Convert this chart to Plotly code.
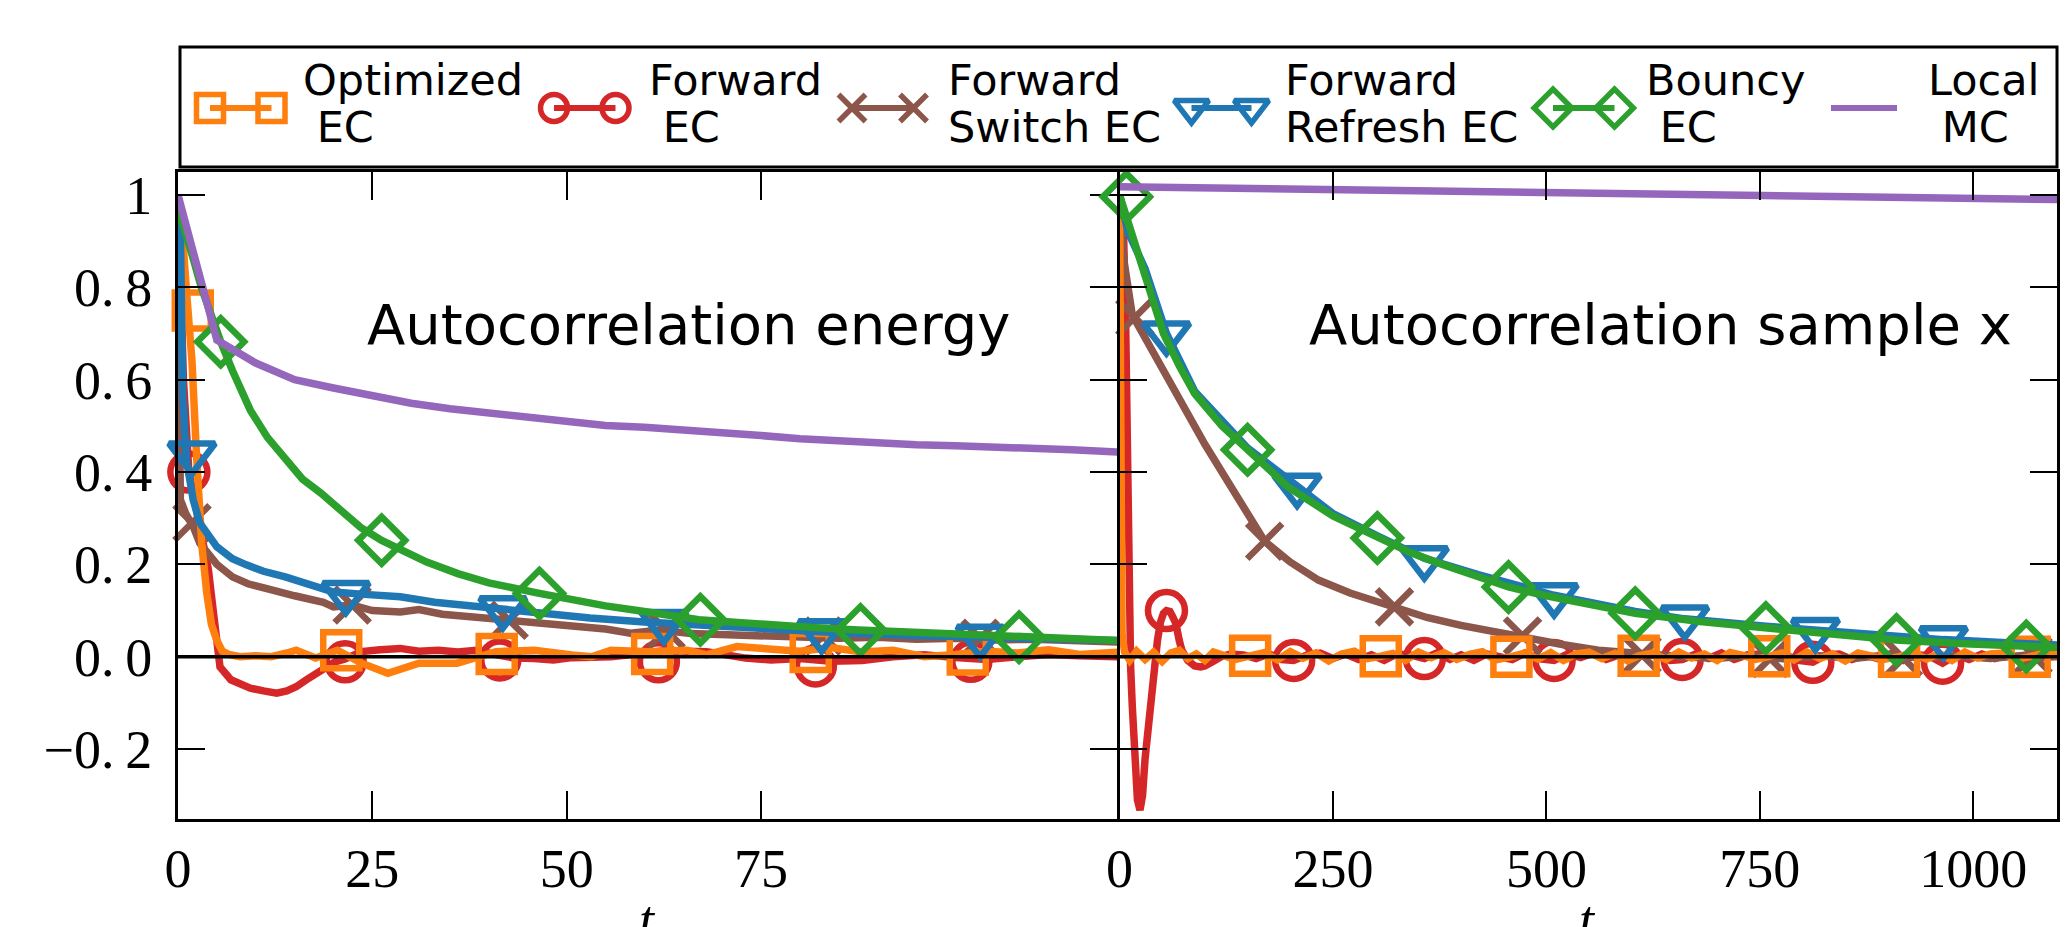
import plotly.graph_objects as go

W, H = 2066, 927

# ---------------- DATA: energy autocorrelation (left panel) ----------------
t_e_opt = [0, 0.5, 1.1, 1.8, 2.4, 3.05, 3.7, 4.3, 5, 5.7, 6.5, 8, 10, 12, 14, 15.2, 17.7, 20.5,
           23.6, 27, 31, 35.9, 40.9, 45.8, 50.7, 53.2, 55.7, 60.6, 65.5, 68, 71.9, 76.3, 80, 84,
           88, 92, 96, 100, 104, 108, 112, 116, 121]
ac_e_opt = [1.0, 0.93, 0.79, 0.64, 0.43, 0.245, 0.138, 0.07, 0.035, 0.012, 0.005, 0.0, 0.002, 0.0,
            0.008, 0.014, -0.003, 0.014, -0.014, -0.036, -0.014, -0.014, 0.011, 0.014, 0.004, 0.0,
            0.014, 0.011, 0.014, 0.004, 0.022, 0.018, 0.012, 0.02, 0.01, 0.014, 0.0, 0.005, 0.012,
            0.008, 0.015, 0.005, 0.01]
mk_e_opt_t = [1.9, 21, 41, 61, 81.4, 101.6, 121]
mk_e_opt_y = [0.75, 0.014, 0.006, 0.006, 0.01, 0.005, 0.01]

t_e_fwd = [0, 0.7, 1.4, 2.2, 3.0, 3.9, 4.6, 5.4, 6.8, 8, 9.3, 11, 12.7, 14, 15.2, 16.5, 17.7, 19,
           20.2, 21.5, 23.6, 26, 28.6, 31, 33.5, 36, 38.4, 41, 43.3, 45.8, 48.3, 50.7, 53.2, 55.7,
           58.1, 60.5, 63, 65.5, 68, 70.5, 73, 76.3, 80, 84, 88, 92, 96, 100, 104, 108, 112, 116, 121]
ac_e_fwd = [1.0, 0.6, 0.40, 0.33, 0.26, 0.19, 0.09, -0.022, -0.05, -0.06, -0.068, -0.074, -0.079,
            -0.074, -0.065, -0.05, -0.036, -0.022, -0.011, -0.005, 0.011, 0.015, 0.018, 0.012,
            0.014, 0.01, 0.014, 0.004, -0.003, -0.004, -0.007, -0.002, -0.003, 0.0, 0.004, 0.01,
            0.014, 0.012, 0.011, 0.004, -0.003, -0.007, -0.004, -0.01, -0.008, 0.0, 0.004, -0.002,
            -0.006, 0.0, 0.005, 0.002, 0.0]
mk_e_fwd_t = [1.4, 21.5, 41.4, 61.8, 82, 102]
mk_e_fwd_y = [0.40, -0.011, -0.007, -0.011, -0.02, -0.01]

t_e_sw = [0, 0.3, 1, 2, 2.8, 3.9, 5, 7, 9, 11.3, 13, 15, 18.7, 20, 22.4, 25, 28.6, 31, 34, 38.4,
          42.6, 45, 48.3, 52, 55, 58.2, 62, 66, 70, 76.3, 80, 85, 90, 95, 100, 105, 110, 115, 121]
ac_e_sw = [1.0, 0.34, 0.31, 0.28, 0.246, 0.224, 0.2, 0.173, 0.158, 0.148, 0.14, 0.132, 0.118, 0.108,
           0.112, 0.1, 0.097, 0.102, 0.092, 0.086, 0.079, 0.077, 0.073, 0.068, 0.06, 0.051, 0.058,
           0.05, 0.048, 0.043, 0.045, 0.04, 0.042, 0.038, 0.04, 0.036, 0.038, 0.035, 0.032]
mk_e_sw_t = [1.8, 22.4, 42.6, 62.8, 83, 103.2]
mk_e_sw_y = [0.29, 0.112, 0.079, 0.058, 0.045, 0.04]

t_e_ref = [0, 0.3, 0.6, 1.1, 1.95, 2.8, 5, 7, 8.8, 11, 13.8, 17, 20, 24, 28.6, 33, 38.4, 45, 53,
           60, 67, 76.3, 85, 95, 105, 113, 121]
ac_e_ref = [1.0, 0.93, 0.57, 0.426, 0.34, 0.29, 0.238, 0.212, 0.199, 0.185, 0.173, 0.155, 0.14,
            0.135, 0.13, 0.118, 0.108, 0.095, 0.084, 0.075, 0.068, 0.058, 0.052, 0.046, 0.041,
            0.038, 0.035]
mk_e_ref_t = [1.8, 21.6, 41.8, 62.5, 82.8, 103.2]
mk_e_ref_y = [0.44, 0.138, 0.105, 0.075, 0.055, 0.043]

t_e_bnc = [0, 1, 2, 3, 4, 5.5, 7, 9.3, 11.5, 13.9, 16, 18.4, 21, 23.5, 26.2, 28.6, 32, 36, 40,
           46.5, 50, 55, 60, 67, 72, 76.3, 82, 87.5, 95, 100, 108, 115, 121]
ac_e_bnc = [0.97, 0.92, 0.86, 0.8, 0.75, 0.682, 0.62, 0.534, 0.475, 0.426, 0.385, 0.354, 0.315,
            0.28, 0.252, 0.231, 0.205, 0.18, 0.16, 0.137, 0.125, 0.11, 0.098, 0.08, 0.074, 0.068,
            0.063, 0.058, 0.052, 0.048, 0.042, 0.038, 0.035]
mk_e_bnc_t = [5.5, 26.2, 46.5, 67.2, 87.8, 108.2]
mk_e_bnc_y = [0.682, 0.252, 0.137, 0.08, 0.058, 0.042]

t_e_loc = [0, 5, 10, 15, 20, 25, 30, 35, 40, 45, 50, 55, 60, 65, 70, 75, 80, 85, 90, 95, 100,
           105, 110, 115, 121]
ac_e_loc = [1.0, 0.686, 0.636, 0.60, 0.582, 0.565, 0.549, 0.537, 0.527, 0.517, 0.508, 0.501,
            0.497, 0.492, 0.487, 0.479, 0.472, 0.467, 0.462, 0.459, 0.457, 0.455, 0.452, 0.448,
            0.443]

# ---------------- DATA: sample-x autocorrelation (right panel) ----------------
t_x_opt = [0, 1.5, 3, 6, 12, 20, 30, 40, 50, 60, 70, 80, 90, 100, 110, 120, 135, 153, 170, 185,
           200, 215, 230, 245, 260, 275, 290, 306, 320, 335, 350, 365, 380, 395, 410, 425, 440,
           459, 475, 490, 505, 520, 535, 550, 565, 580, 595, 608, 625, 640, 655, 670, 685, 700,
           715, 730, 745, 761, 775, 790, 805, 820, 835, 850, 865, 880, 895, 913, 930, 945, 960,
           975, 990, 1005, 1020, 1035, 1050, 1066, 1080, 1100]
ac_x_opt = [1.0, 0.5, 0.05, 0.01, -0.008, 0.012, -0.006, 0.01, -0.01, 0.008, 0.014, -0.004, 0.006,
            -0.008, 0.01, 0.004, -0.006, 0.002, 0.009, -0.007, 0.011, -0.003, 0.008, -0.009, 0.006,
            0.012, -0.004, 0.001, 0.007, -0.008, 0.01, -0.002, 0.009, -0.006, 0.005, 0.011, -0.007,
            0.0, 0.008, -0.005, 0.009, -0.008, 0.006, 0.01, -0.004, 0.007, -0.009, 0.002, 0.008,
            -0.006, 0.01, -0.003, 0.006, -0.008, 0.009, 0.003, -0.006, 0.001, 0.008, -0.007, 0.01,
            -0.004, 0.006, -0.009, 0.008, 0.002, -0.006, 0.0, 0.009, -0.005, 0.007, -0.008, 0.01,
            -0.003, 0.006, 0.008, -0.006, 0.0, 0.007, 0.003]
mk_x_opt_t = [153, 306, 459, 608, 761, 913, 1066]
mk_x_opt_y = [0.002, 0.001, 0.0, 0.002, 0.001, 0.0, 0.0]

t_x_fwd = [0, 4, 7, 9, 11, 13, 15, 17, 19, 21, 24, 27, 30, 33, 37, 41, 44.5, 48, 51.5, 55, 59, 62,
           66, 70, 73, 80, 88, 95, 100, 110, 119, 130, 145, 160, 175, 190, 204, 220, 235, 250,
           265, 280, 295, 310, 325, 340, 357, 372, 387, 400, 415, 430, 445, 460, 475, 490, 509,
           525, 540, 555, 570, 585, 600, 615, 630, 645, 659, 675, 690, 705, 720, 735, 750, 765,
           780, 795, 812, 828, 843, 858, 873, 888, 903, 918, 933, 948, 964, 980, 995, 1010, 1025,
           1040, 1055, 1070, 1085, 1100]
ac_x_fwd = [1.0, 0.97, 0.75, 0.45, 0.15, -0.02, -0.108, -0.19, -0.26, -0.31, -0.332, -0.3, -0.22,
            -0.16, -0.108, -0.03, 0.036, 0.075, 0.094, 0.1, 0.098, 0.088, 0.072, 0.035, 0.014,
            -0.008, -0.02, -0.022, -0.02, -0.01, 0.0, 0.006, 0.004, -0.004, 0.006, -0.006, -0.008,
            0.004, 0.008, -0.004, 0.006, -0.006, 0.004, -0.008, 0.006, 0.004, -0.004, 0.008,
            -0.006, 0.004, -0.008, 0.006, 0.002, -0.006, 0.008, -0.004, -0.008, 0.006, -0.002,
            0.008, -0.006, 0.004, -0.006, 0.006, 0.002, -0.008, -0.006, 0.006, -0.004, 0.008,
            -0.006, 0.004, 0.006, -0.006, 0.004, -0.008, -0.012, 0.004, 0.006, -0.006, 0.004,
            -0.004, 0.006, -0.008, 0.004, 0.002, -0.014, 0.004, -0.006, 0.006, -0.004, 0.004,
            -0.006, 0.006, -0.002, 0.002]
mk_x_fwd_t = [55, 204, 357, 509, 659, 812, 964]
mk_x_fwd_y = [0.1, -0.008, -0.004, -0.008, -0.006, -0.012, -0.014]

t_x_sw = [0, 5, 15, 30, 50, 75, 100, 125, 150, 170, 200, 233, 270, 322, 360, 400, 440, 470, 520,
          561, 619, 660, 700, 740, 780, 820, 860, 900, 940, 980, 1020, 1060, 1100]
ac_x_sw = [1.0, 0.86, 0.74, 0.69, 0.62, 0.54, 0.46, 0.385, 0.31, 0.25, 0.205, 0.166, 0.138, 0.108,
           0.085, 0.068, 0.053, 0.045, 0.026, 0.014, 0.004, 0.0, -0.004, 0.003, -0.005, 0.002,
           -0.004, 0.004, -0.003, 0.002, -0.004, 0.003, 0.0]
mk_x_sw_t = [18, 170, 322, 472, 612, 762, 918, 1070]
mk_x_sw_y = [0.735, 0.25, 0.108, 0.045, 0.004, -0.004, -0.003, 0.003]

t_x_ref = [0, 10, 30, 55, 88, 150, 208, 250, 302, 357, 420, 509, 604, 662, 757, 815, 910, 965,
           1062, 1100]
ac_x_ref = [1.0, 0.92, 0.84, 0.70, 0.575, 0.452, 0.37, 0.31, 0.262, 0.213, 0.178, 0.133, 0.098,
            0.082, 0.066, 0.058, 0.042, 0.037, 0.028, 0.025]
mk_x_ref_t = [55, 208, 357, 509, 662, 815, 965, 1103]
mk_x_ref_y = [0.70, 0.37, 0.213, 0.133, 0.085, 0.058, 0.04, 0.03]

t_x_bnc = [0, 12, 30, 51.5, 70, 88, 120, 150, 197, 250, 302, 340, 379, 420, 455.6, 500, 550, 604,
           680, 757, 830, 910, 990, 1062, 1100]
ac_x_bnc = [1.0, 0.93, 0.837, 0.70, 0.63, 0.57, 0.50, 0.448, 0.368, 0.305, 0.257, 0.226, 0.199,
            0.175, 0.151, 0.132, 0.112, 0.094, 0.076, 0.062, 0.05, 0.036, 0.028, 0.022, 0.02]
mk_x_bnc_t = [8, 150, 302, 455.6, 604, 757, 910, 1062]
mk_x_bnc_y = [0.996, 0.448, 0.257, 0.151, 0.094, 0.062, 0.036, 0.022]

t_x_loc = [0, 250, 500, 750, 1000, 1100]
ac_x_loc = [1.018, 1.011, 1.005, 1.0, 0.994, 0.99]

# ---------------- series styling / labels ----------------
series_names = ["Optimized EC", "Forward EC", "Forward Switch EC", "Forward Refresh EC",
                "Bouncy EC", "Local MC"]
legend_line1 = ["Optimized", "Forward", "Forward", "Forward", "Bouncy", "Local"]
legend_line2 = ["\u00a0EC", "\u00a0EC", "Switch EC", "Refresh EC", "\u00a0EC", "\u00a0MC"]
colors = ["#ff7f0e", "#d62728", "#8c564b", "#1f77b4", "#2ca02c", "#9467bd"]
symbols = ["square-open", "circle-open", "x-thin-open", "triangle-down-open", "diamond-open", None]
msize = [36, 37, 35, 40, 36, 0]
lgsize = [27, 27, 27, 30, 29, 0]

energy = [(t_e_opt, ac_e_opt, mk_e_opt_t, mk_e_opt_y),
          (t_e_fwd, ac_e_fwd, mk_e_fwd_t, mk_e_fwd_y),
          (t_e_sw, ac_e_sw, mk_e_sw_t, mk_e_sw_y),
          (t_e_ref, ac_e_ref, mk_e_ref_t, mk_e_ref_y),
          (t_e_bnc, ac_e_bnc, mk_e_bnc_t, mk_e_bnc_y),
          (t_e_loc, ac_e_loc, None, None)]
samplex = [(t_x_opt, ac_x_opt, mk_x_opt_t, mk_x_opt_y),
           (t_x_fwd, ac_x_fwd, mk_x_fwd_t, mk_x_fwd_y),
           (t_x_sw, ac_x_sw, mk_x_sw_t, mk_x_sw_y),
           (t_x_ref, ac_x_ref, mk_x_ref_t, mk_x_ref_y),
           (t_x_bnc, ac_x_bnc, mk_x_bnc_t, mk_x_bnc_y),
           (t_x_loc, ac_x_loc, None, None)]

draw_order = [1, 2, 0, 3, 4, 5]

LW = 7.5
MLW = 6.5
fig = go.Figure()
for panel, (xa, ya) in ((energy, ("x", "y")), (samplex, ("x2", "y2"))):
    for i in draw_order:
        t, v, mt, mv = panel[i]
        fig.add_trace(go.Scatter(x=t, y=v, mode="lines", xaxis=xa, yaxis=ya,
                                 line=dict(color=colors[i], width=LW), showlegend=False,
                                 name=series_names[i], hoverinfo="skip"))
        if mt is not None:
            fig.add_trace(go.Scatter(x=mt, y=mv, mode="markers", xaxis=xa, yaxis=ya,
                                     cliponaxis=False, showlegend=False, hoverinfo="skip",
                                     marker=dict(symbol=symbols[i], size=msize[i],
                                                 color=colors[i],
                                                 line=dict(color=colors[i], width=MLW))))

# ---------------- legend (drawn by hand, matplotlib style) ----------------
LEG_Y = 108
leg_handle_x = [(210, 271.5), (554, 615.5), (852, 913.5), (1191.5, 1251.5), (1553, 1614.5),
                (1831, 1897)]
leg_text_x = [302, 648, 947, 1284, 1645, 1927]
for i in range(6):
    xa_, xb_ = leg_handle_x[i]
    if symbols[i]:
        fig.add_trace(go.Scatter(x=[xa_, xb_], y=[LEG_Y, LEG_Y], mode="lines+markers",
                                 xaxis="x3", yaxis="y3", showlegend=False, hoverinfo="skip",
                                 cliponaxis=False,
                                 line=dict(color=colors[i], width=6),
                                 marker=dict(symbol=symbols[i], size=lgsize[i], color=colors[i],
                                             line=dict(color=colors[i], width=5.5))))
    else:
        fig.add_trace(go.Scatter(x=[xa_, xb_], y=[LEG_Y, LEG_Y], mode="lines",
                                 xaxis="x3", yaxis="y3", showlegend=False, hoverinfo="skip",
                                 line=dict(color=colors[i], width=6)))

annotations = []
LEG_FS = 43
for i in range(6):
    for txt, base in ((legend_line1[i], 95), (legend_line2[i], 141.7)):
        annotations.append(dict(text=txt, x=leg_text_x[i] / W, y=1 - (base - 0.346 * LEG_FS) / H,
                                xref="paper", yref="paper", xanchor="left", yanchor="middle",
                                showarrow=False, borderpad=0,
                                font=dict(family="DejaVu Sans", size=LEG_FS, color="black")))

ANN_FS = 56
for txt, xl in (("Autocorrelation energy", 366), ("Autocorrelation sample x", 1308)):
    annotations.append(dict(text=txt, x=xl / W, y=1 - (344.3 - 0.346 * ANN_FS) / H,
                            xref="paper", yref="paper", xanchor="left", yanchor="middle",
                            showarrow=False, borderpad=0,
                            font=dict(family="DejaVu Sans", size=ANN_FS, color="black")))

TICK_FS = 54
for xc in (647, 1587):
    annotations.append(dict(text="<i>t</i>", x=xc / W, y=1 - (938 - 0.3375 * TICK_FS) / H,
                            xref="paper", yref="paper", xanchor="center", yanchor="middle",
                            showarrow=False,
                            font=dict(family="Liberation Serif", size=TICK_FS, color="black")))

shapes = [
    dict(type="rect", xref="paper", yref="paper", x0=180 / W, x1=2057 / W,
         y0=1 - 167 / H, y1=1 - 47 / H, line=dict(color="black", width=3),
         fillcolor="rgba(0,0,0,0)", layer="above"),
    dict(type="line", xref="paper", yref="y", x0=178 / W, x1=2057 / W, y0=0, y1=0,
         line=dict(color="black", width=3.5), layer="above"),
]

ytick_vals = [1, 0.8, 0.6, 0.4, 0.2, 0.0, -0.2]
ytick_text = ["1", "0.\u20098", "0.\u20096", "0.\u20094", "0.\u20092", "0.\u20090", "\u22120.\u20092"]
x1_ticks = [0, 25, 50, 75]
x2_ticks = [0, 250, 500, 750, 1000]

tickfont = dict(family="Liberation Serif", size=TICK_FS, color="black")
common = dict(showline=True, linewidth=3, linecolor="black", mirror="ticks", ticks="inside",
              tickwidth=1.5, tickcolor="black", showgrid=False, zeroline=False,
              tickfont=tickfont, automargin=False)
YDOM = [1 - 819 / H, 1 - 172 / H]
YRANGE = [-0.3515, 1.0498]

fig.update_layout(
    width=W, height=H, margin=dict(l=0, r=0, t=0, b=0, pad=0, autoexpand=False),
    paper_bgcolor="white", plot_bgcolor="rgba(0,0,0,0)",
    showlegend=False,
    xaxis=dict(domain=[178 / W, 1117 / W], range=[0, 120.8], anchor="y", tickvals=x1_ticks,
               ticktext=[str(v) for v in x1_ticks], ticklen=28, **common),
    yaxis=dict(domain=YDOM, range=YRANGE, anchor="x", tickvals=ytick_vals, ticktext=ytick_text,
               ticklen=27, ticklabelstandoff=12, **common),
    xaxis2=dict(domain=[1119.5 / W, 2057 / W], range=[0, 1098], anchor="y2", tickvals=x2_ticks,
                ticktext=[str(v) for v in x2_ticks], ticklen=28, **common),
    yaxis2=dict(domain=YDOM, range=YRANGE, anchor="x2", tickvals=ytick_vals,
                showticklabels=False, ticklen=27, **common),
    xaxis3=dict(domain=[0, 1], range=[0, W], anchor="y3", visible=False, fixedrange=True),
    yaxis3=dict(domain=[0, 1], range=[H, 0], anchor="x3", visible=False, fixedrange=True),
    annotations=annotations, shapes=shapes,
)

fig.write_html("out.html", config={"displayModeBar": False},
               post_script="document.body.style.margin='0px';document.body.style.overflow='hidden';")
